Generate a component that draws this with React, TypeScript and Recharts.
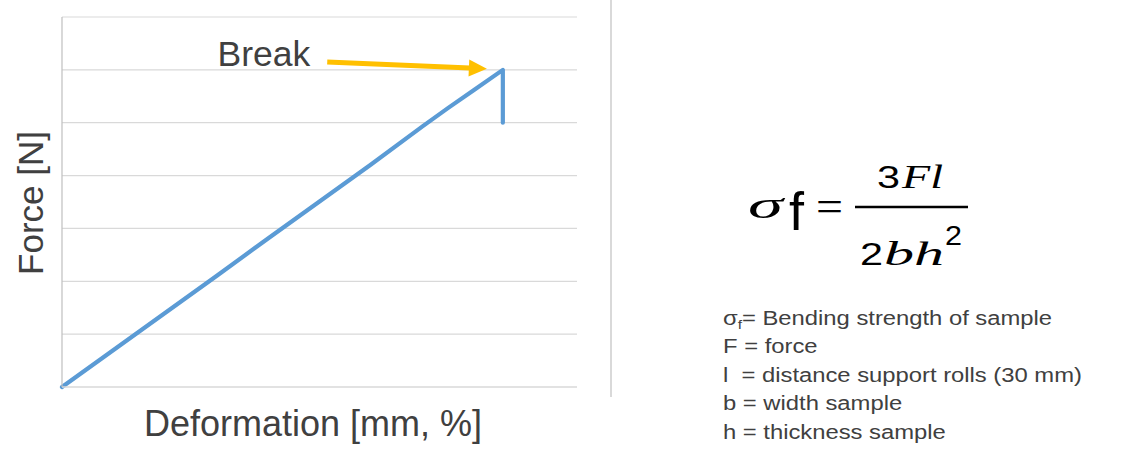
import { Line, LineChart, ReferenceLine, XAxis, YAxis } from 'recharts';

// deformation (x) and force (y) in gridline units
const deformation = [0, 1, 2, 3, 4, 5, 6, 7, 7.5, 8, 8.56, 8.56];
const force = [0, 0.7, 1.4, 2.1, 2.81, 3.51, 4.21, 4.93, 5.28, 5.62, 6.0, 5.0];
const forceTicks = [0, 1, 2, 3, 4, 5, 6, 7];

// "Break" arrow, start and tip in data units
const arrowStart = { x: 5.15, y: 6.15 };
const arrowTip = { x: 8.25, y: 6.02 };

const legendLines = [
  'F = force',
  'l  = distance support rolls (30 mm)',
  'b = width sample',
  'h = thickness sample',
];

const data = deformation.map((d, i) => ({ deformation: d, force: force[i] }));

const textGrey = '#404040';

function BreakArrow(props: any) {
  const { x1, y1, x2, y2 } = props;
  const dx = x2 - x1;
  const dy = y2 - y1;
  const len = Math.sqrt(dx * dx + dy * dy);
  const ux = dx / len;
  const uy = dy / len;
  const head = 18;
  const half = 8.5;
  const bx = x2 - ux * head;
  const by = y2 - uy * head;
  const pts = [
    `${x2},${y2}`,
    `${bx - uy * half},${by + ux * half}`,
    `${bx + uy * half},${by - ux * half}`,
  ].join(' ');
  return (
    <g>
      <line x1={x1} y1={y1} x2={bx + ux} y2={by + uy} stroke="#ffc000" strokeWidth={5} />
      <polygon points={pts} fill="#ffc000" />
      <text
        x={x1 - 17}
        y={y1 + 4}
        textAnchor="end"
        fontFamily="'Liberation Sans', Arial, sans-serif"
        fontSize={35.5}
        fill={textGrey}
      >
        Break
      </text>
    </g>
  );
}

export default function App() {
  return (
    <div style={{ position: 'absolute', left: 0, top: 0, width: 1136, height: 474, background: '#fff', overflow: 'hidden' }}>
      <div style={{ position: 'absolute', left: 0, top: 0 }}>
        <LineChart width={620} height={460} data={data} margin={{ top: 17, right: 43, bottom: 72, left: 61 }}>
          <XAxis
            dataKey="deformation"
            type="number"
            domain={[0, 10]}
            height={1}
            tick={false}
            tickLine={false}
            axisLine={{ stroke: '#d9d9d9', strokeWidth: 1.5 }}
          />
          <YAxis
            type="number"
            domain={[0, 7]}
            ticks={forceTicks}
            width={1}
            tick={false}
            tickLine={false}
            axisLine={{ stroke: '#bfbfbf', strokeWidth: 1.2 }}
          />
          {forceTicks.slice(1).map((t) => (
            <ReferenceLine key={t} y={t} stroke="#d9d9d9" strokeWidth={1.2} />
          ))}
          <Line
            dataKey="force"
            type="linear"
            stroke="#5b9bd5"
            strokeWidth={4.2}
            strokeLinecap="round"
            strokeLinejoin="round"
            dot={false}
            isAnimationActive={false}
          />
          <ReferenceLine segment={[arrowStart, arrowTip]} shape={BreakArrow} ifOverflow="visible" />
        </LineChart>
      </div>

      <div
        style={{
          position: 'absolute',
          left: 313,
          top: 404,
          transform: 'translateX(-50%)',
          whiteSpace: 'nowrap',
          fontFamily: "'Liberation Sans', Arial, sans-serif",
          fontSize: 36,
          lineHeight: '40px',
          color: textGrey,
        }}
      >
        Deformation [mm, %]
      </div>
      <div
        style={{
          position: 'absolute',
          left: 31,
          top: 203,
          transform: 'translate(-50%, -50%) rotate(-90deg)',
          whiteSpace: 'nowrap',
          fontFamily: "'Liberation Sans', Arial, sans-serif",
          fontSize: 35,
          lineHeight: '40px',
          color: textGrey,
        }}
      >
        Force [N]
      </div>

      <div style={{ position: 'absolute', left: 610, top: 0, width: 2, height: 397, background: '#d9d9d9' }} />

      <svg width={1136} height={474} style={{ position: 'absolute', left: 0, top: 0 }}>
        <text x={748} y={218} fontFamily="'Liberation Serif', 'Times New Roman', serif" fontStyle="italic" fontSize={38} textLength={35} lengthAdjust="spacingAndGlyphs" fill="#000">
          σ
        </text>
        <text x={789} y={230} fontFamily="'Liberation Sans', Arial, sans-serif" fontSize={54} fill="#000">
          f
        </text>
        <text x={816} y={221} fontFamily="'Liberation Serif', 'Times New Roman', serif" fontSize={44} textLength={27} lengthAdjust="spacingAndGlyphs" fill="#000">
          =
        </text>
        <line x1={855} y1={207} x2={968} y2={207} stroke="#000" strokeWidth={2.5} />
        <text x={877} y={188} fontFamily="'Liberation Sans', Arial, sans-serif" fontSize={32} textLength={23} lengthAdjust="spacingAndGlyphs" fill="#000">
          3
        </text>
        <text x={902} y={188} fontFamily="'Liberation Serif', 'Times New Roman', serif" fontStyle="italic" fontSize={34} textLength={41} lengthAdjust="spacingAndGlyphs" fill="#000">
          Fl
        </text>
        <text x={860} y={265} fontFamily="'Liberation Sans', Arial, sans-serif" fontSize={32} textLength={23} lengthAdjust="spacingAndGlyphs" fill="#000">
          2
        </text>
        <text x={884} y={265} fontFamily="'Liberation Serif', 'Times New Roman', serif" fontStyle="italic" fontSize={34} textLength={60} lengthAdjust="spacingAndGlyphs" fill="#000">
          bh
        </text>
        <text x={945} y={245} fontFamily="'Liberation Sans', Arial, sans-serif" fontSize={28} textLength={17} lengthAdjust="spacingAndGlyphs" fill="#000">
          2
        </text>

        <g transform="translate(723,0) scale(1.19,1)" fontFamily="'Liberation Sans', Arial, sans-serif" fontSize={20} fill={textGrey}>
          <text x={0} y={325}>
            σ<tspan fontSize={13} dy={4}>f</tspan>
            <tspan dy={-4}>= Bending strength of sample</tspan>
          </text>
          {legendLines.map((t, i) => (
            <text key={t} x={0} y={353.5 + i * 28.5} style={{ whiteSpace: 'pre' }}>
              {t}
            </text>
          ))}
        </g>
      </svg>
    </div>
  );
}
